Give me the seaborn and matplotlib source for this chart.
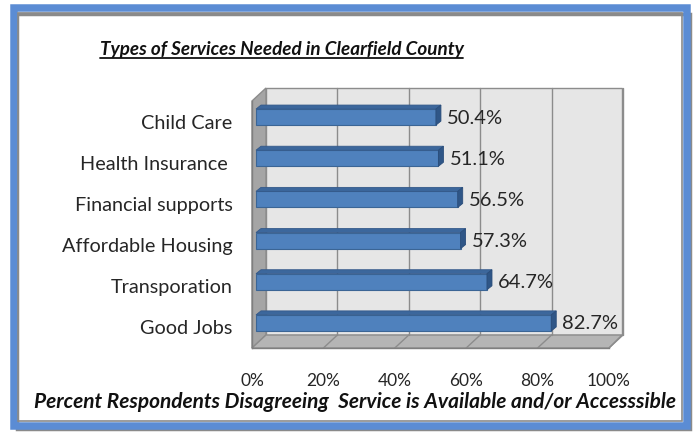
import seaborn as sns
import matplotlib.pyplot as plt
from matplotlib.transforms import ScaledTranslation, IdentityTransform
from matplotlib.patches import Polygon, Rectangle
from matplotlib.lines import Line2D

services = ["Child Care", "Health Insurance ", "Financial supports",
            "Affordable Housing", "Transporation", "Good Jobs"]
percent = [50.4, 51.1, 56.5, 57.3, 64.7, 82.7]
x_ticks = [0, 20, 40, 60, 80, 100]
x_labels = ["0%", "20%", "40%", "60%", "80%", "100%"]

title = "Types of Services Needed in Clearfield County"
xlabel = "Percent Respondents Disagreeing  Service is Available and/or Accesssible"

W, H = 693, 433
sns.set_theme(style="white")
plt.rcParams["font.family"] = ["Lato", "DejaVu Sans"]

fig = plt.figure(figsize=(W / 100, H / 100), dpi=100)
fig.patch.set_facecolor("white")

def px(x, y):
    # image pixel -> display coords
    return (x, H - y)

# front plane of the 3d box
ax = fig.add_axes([252 / W, (H - 348) / H, 357 / W, 247 / H])
ax.patch.set_visible(False)

sns.barplot(x=percent, y=services, orient="h", color="#4f81bd", saturation=1,
            width=0.39, edgecolor="#3b6595", linewidth=0.8, ax=ax, zorder=3)
ax.set_xlim(0, 100)
ax.set_ylim(5.5, -0.5)

# depth offsets
DX, DY = 14, 13
shift = ScaledTranslation(4 / 100, 4.5 / 100, fig.dpi_scale_trans)

ident = IdentityTransform()

# back wall, left wall, floor
fig.add_artist(Polygon([px(266, 88), px(622, 88), px(622, 335), px(266, 335)],
                       closed=True, facecolor="#e6e6e6", edgecolor="#8c8c8c",
                       lw=1, transform=ident, zorder=-3))
fig.add_artist(Polygon([px(252, 101), px(266, 88), px(266, 335), px(252, 348)],
                       closed=True, facecolor="#a5a5a5", edgecolor="#8c8c8c",
                       lw=1, transform=ident, zorder=-3))
fig.add_artist(Polygon([px(252, 348), px(266, 335), px(622, 335), px(609, 348)],
                       closed=True, facecolor="#b5b5b5", edgecolor="#8c8c8c",
                       lw=1, transform=ident, zorder=-3))

# gridlines on back wall and floor, from the x scale
for v in x_ticks[1:]:
    xd = ax.transData.transform((v, 0))[0]
    fig.add_artist(Line2D([xd + DX, xd + DX], [H - 335, H - 88], color="#8c8c8c",
                          lw=1, transform=ident, zorder=-2))
    fig.add_artist(Line2D([xd, xd + DX], [H - 348, H - 335], color="#8c8c8c",
                          lw=1, transform=ident, zorder=-2))

# 3d faces for bars
for p in ax.patches:
    p.set_transform(ax.transData + shift)
    (xa, ya), (xb, yb) = ax.transData.transform(
        [(p.get_x(), p.get_y()), (p.get_x() + p.get_width(), p.get_y() + p.get_height())])
    xl, xr = min(xa, xb) + 4, max(xa, xb) + 4
    ybot, ytop = min(ya, yb) + 4.5, max(ya, yb) + 4.5
    ax.add_artist(Polygon([(xl, ytop), (xl + 5, ytop + 4), (xr + 5, ytop + 4), (xr, ytop)],
                          closed=True, facecolor="#3c679c", edgecolor="#34598a",
                          lw=0.6, transform=ident, zorder=3, clip_on=False))
    ax.add_artist(Polygon([(xr, ybot), (xr, ytop), (xr + 5, ytop + 4), (xr + 5, ybot + 4)],
                          closed=True, facecolor="#2f5687", edgecolor="#2a4d7a",
                          lw=0.6, transform=ident, zorder=3, clip_on=False))

for i, v in enumerate(percent):
    ax.annotate(f"{v}%", xy=(v, i), xytext=(15, 3.5), textcoords="offset pixels",
                ha="left", va="center", fontsize=14.5, color="#262626")

# axes
for s in ["top", "right"]:
    ax.spines[s].set_visible(False)
for s in ["left", "bottom"]:
    ax.spines[s].set_color("#7f7f7f")
    ax.spines[s].set_linewidth(1)
ax.set_xticks(x_ticks)
ax.set_xticklabels(x_labels)
ax.set_yticks(range(len(services)))
ax.set_yticks([i - 0.5 for i in range(len(services) + 1)], minor=True)
ax.tick_params(axis="x", direction="out", length=5, width=1, color="#7f7f7f",
               pad=13, labelsize=12.5, labelcolor="#262626")
ax.tick_params(axis="y", which="major", length=0, pad=14, labelsize=14.3,
               labelcolor="#262626")
ax.tick_params(axis="y", which="minor", direction="out", length=5, width=1,
               color="#7f7f7f")
ax.set_xlabel("")
ax.set_ylabel("")

# texts
t = fig.text(281.5 / W, 1 - 50 / H, title, ha="center", va="center",
             fontsize=13.6, fontweight="bold", fontstyle="italic", color="#111111")
fig.text(355.5 / W, 1 - 402 / H, xlabel, ha="center", va="center",
         fontsize=15, fontweight="bold", fontstyle="italic", color="#111111")

# frame
fig.add_artist(Rectangle(px(16.5, 429), 673, 415, fill=False, edgecolor="#8a8a8a",
                         lw=2.5, transform=ident, zorder=5))
fig.add_artist(Rectangle(px(13.5, 426), 673, 418, fill=False, edgecolor="#5b8cd4",
                         lw=5.4, transform=ident, zorder=6))
fig.add_artist(Rectangle(px(18, 421), 664, 408, fill=False, edgecolor="#8a8a8a",
                         lw=1.2, transform=ident, zorder=6))

fig.canvas.draw()
bb = t.get_window_extent()
fig.add_artist(Line2D([bb.x0, bb.x1], [bb.y0 + 1, bb.y0 + 1], color="#111111",
                      lw=1.3, transform=ident, zorder=6))

fig.savefig("out.png", dpi=100)
